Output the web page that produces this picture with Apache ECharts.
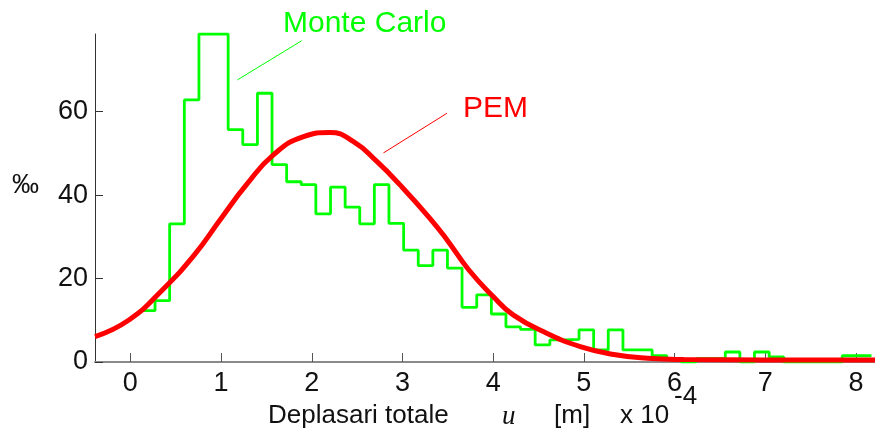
<!DOCTYPE html>
<html>
<head>
<meta charset="utf-8">
<script src="https://cdn.jsdelivr.net/npm/echarts@6/dist/echarts.min.js"></script>
<style>
  html, body { margin: 0; padding: 0; background: #fff; }
  #chart { width: 875px; height: 432px; }
</style>
</head>
<body>
<div id="chart"></div>
<script>
// histogram bin edges (x 10^-4 m) and Monte Carlo frequencies (permille)
var binEdges = [0.111, 0.272, 0.433, 0.595, 0.756, 0.917, 1.078, 1.239, 1.401, 1.562,
  1.723, 1.884, 2.045, 2.207, 2.368, 2.529, 2.690, 2.851, 3.013, 3.174,
  3.335, 3.496, 3.657, 3.819, 3.980, 4.141, 4.302, 4.463, 4.625, 4.786,
  4.947, 5.108, 5.269, 5.431, 5.592, 5.753, 5.914, 6.075, 6.237, 6.398,
  6.559, 6.720, 6.881, 7.043, 7.204, 7.365, 7.526, 7.687, 7.849, 8.010, 8.171];
var mcPercent = [12.3, 14.7, 33.1, 62.8, 78.6, 78.6, 55.7, 52.1, 64.4, 47.3,
  43.2, 42.5, 35.5, 41.9, 37.1, 33.1, 42.5, 33.2, 26.8, 23.1,
  26.8, 22.5, 13.1, 16.1, 11.5, 8.4, 7.8, 4.1, 5.3, 5.4,
  7.7, 2.9, 7.7, 2.9, 2.9, 1.5, 0.6, 0, 0.8, 0.8,
  2.4, 0, 2.4, 1.2, 0, 0, 0, 0, 1.5, 1.5];

// PEM curve
var pemU = [-0.39, -0.02, 0.35, 0.71, 0.99, 1.28, 1.58, 1.91, 2.20, 2.46, 2.72, 2.97,
  3.30, 3.49, 3.73, 4.0, 4.22, 4.59, 4.96, 5.33, 5.7, 6.1, 7.0, 8.21];
var pemPercent = [6.1, 10.0, 17.2, 25.8, 34.1, 42.5, 49.7, 54.0, 55.0, 52.8, 48.0, 42.5,
  34.5, 29.3, 22.1, 15.7, 11.3, 6.9, 3.7, 1.8, 0.9, 0.6, 0.5, 0.5];

var xTicks = [0, 1, 2, 3, 4, 5, 6, 7, 8];
var yTicks = [0, 20, 40, 60];

var FONT = "'Liberation Sans', Arial, sans-serif";

var mcData = [];
for (var i = 0; i < mcPercent.length; i++) {
  mcData.push([binEdges[i], mcPercent[i]]);
}
mcData.push([binEdges[mcPercent.length], mcPercent[mcPercent.length - 1]]);

var pemData = pemU.map(function (u, i) { return [u, pemPercent[i]]; });

var myChart = echarts.init(document.getElementById('chart'));
var option = {
  animation: false,
  backgroundColor: '#fff',
  grid: { left: 95, right: 0, top: 34, bottom: 70 },
  xAxis: {
    type: 'value',
    min: -0.39,
    max: 8.21,
    splitLine: { show: false },
    axisLine: { show: true, lineStyle: { color: '#8a8a8a', width: 2 } },
    axisTick: { show: true, inside: true, length: 9, customValues: xTicks, lineStyle: { color: '#555', width: 1 } },
    axisLabel: { customValues: xTicks, fontSize: 27, color: '#111', fontFamily: FONT, margin: 8 }
  },
  yAxis: {
    type: 'value',
    min: 0,
    max: 78.6,
    splitLine: { show: false },
    axisLine: { show: true, onZero: false, lineStyle: { color: '#333', width: 1 } },
    axisTick: { show: true, inside: true, length: 8, customValues: yTicks, lineStyle: { color: '#333', width: 1 } },
    axisLabel: { customValues: yTicks, fontSize: 27, color: '#111', fontFamily: FONT, margin: 7 }
  },
  series: [
    {
      name: 'Monte Carlo',
      type: 'line',
      step: 'end',
      data: mcData,
      showSymbol: false,
      lineStyle: { color: '#00ff00', width: 2.8 },
      z: 2,
      markLine: {
        silent: true,
        symbol: ['none', 'none'],
        label: { show: false },
        lineStyle: { color: '#00ff00', width: 1, type: 'solid' },
        data: [[{ coord: [1.89, 77.0] }, { coord: [1.18, 67.6] }]]
      }
    },
    {
      name: 'PEM',
      type: 'line',
      smooth: 0.5,
      data: pemData,
      showSymbol: false,
      lineStyle: { color: '#ff0000', width: 5 },
      z: 3,
      markLine: {
        silent: true,
        symbol: ['none', 'none'],
        label: { show: false },
        lineStyle: { color: '#ff0000', width: 1, type: 'solid' },
        data: [[{ coord: [3.49, 59.6] }, { coord: [2.79, 50.1] }]]
      }
    }
  ],
  graphic: [
    { type: 'text', left: 283, top: 9, style: { text: 'Monte Carlo', font: '30px ' + FONT, fill: '#00ff00' } },
    { type: 'text', left: 463, top: 94, style: { text: 'PEM', font: '30px ' + FONT, fill: '#ff0000' } },
    { type: 'text', left: 12, top: 172, style: { text: '‰', font: '27px ' + FONT, fill: '#111' } },
    { type: 'text', left: 268, top: 403, style: { text: 'Deplasari totale', font: '26px ' + FONT, fill: '#111' } },
    { type: 'text', left: 502, top: 403, style: { text: 'u', font: 'italic 27px "Liberation Serif", serif', fill: '#111' } },
    { type: 'text', left: 554, top: 403, style: { text: '[m]', font: '26px ' + FONT, fill: '#111' } },
    { type: 'text', left: 620, top: 403, style: { text: 'x 10', font: '26px ' + FONT, fill: '#111' } },
    { type: 'text', left: 674, top: 384, style: { text: '-4', font: '26px ' + FONT, fill: '#111' } }
  ]
};
myChart.setOption(option);
</script>
</body>
</html>
